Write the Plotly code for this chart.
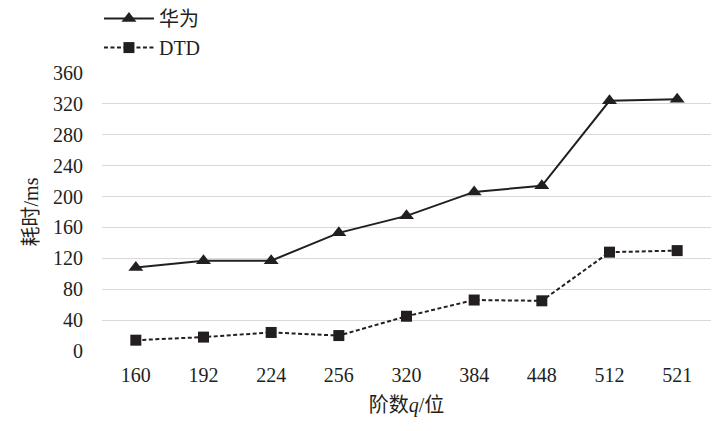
import plotly.graph_objects as go

categories = ["160", "192", "224", "256", "320", "384", "448", "512", "521"]
huawei = [108, 117, 117, 153, 175, 206, 214, 324, 326]
dtd = [14, 18, 24, 20, 45, 66, 65, 128, 130]
y_ticks = [0, 40, 80, 120, 160, 200, 240, 280, 320, 360]

serif = "Liberation Serif, Noto Sans CJK SC, serif"
color = "#231f20"

fig = go.Figure()
fig.add_trace(go.Scatter(
    x=categories, y=huawei, name="华为", mode="lines+markers",
    line=dict(color=color, width=2),
    marker=dict(symbol="triangle-up", size=13, color=color),
))
fig.add_trace(go.Scatter(
    x=categories, y=dtd, name="DTD", mode="lines+markers",
    line=dict(color=color, width=2, dash="4px,2.5px"),
    marker=dict(symbol="square", size=11, color=color),
))

fig.update_layout(
    width=717, height=423,
    margin=dict(l=94, r=14, t=0, b=80, autoexpand=False),
    plot_bgcolor="white", paper_bgcolor="white",
    font=dict(family=serif, size=20, color="#231f20"),
    showlegend=True,
    legend=dict(x=-0.005, y=1.026, xanchor="left", yanchor="top",
                bgcolor="rgba(0,0,0,0)", itemwidth=50,
                font=dict(size=20), tracegroupgap=0),
    xaxis=dict(
        type="category", range=[-0.5, len(categories) - 0.5],
        showgrid=False, zeroline=False, showline=False,
        ticks="", tickfont=dict(size=20), automargin=False,
        ticklabelstandoff=10,
        title=dict(text="阶数<i>q</i>/位", font=dict(size=20), standoff=12),
    ),
    yaxis=dict(
        domain=[0, 0.8105],
        range=[0, 360], tickvals=y_ticks, showgrid=True,
        gridcolor="#d9d9d9", gridwidth=1, zeroline=False, showline=False,
        ticks="", tickfont=dict(size=20), ticklabelstandoff=18, automargin=False,
        title=dict(text="耗时/ms", font=dict(size=20), standoff=8),
    ),
)

fig.write_html("out.html")
